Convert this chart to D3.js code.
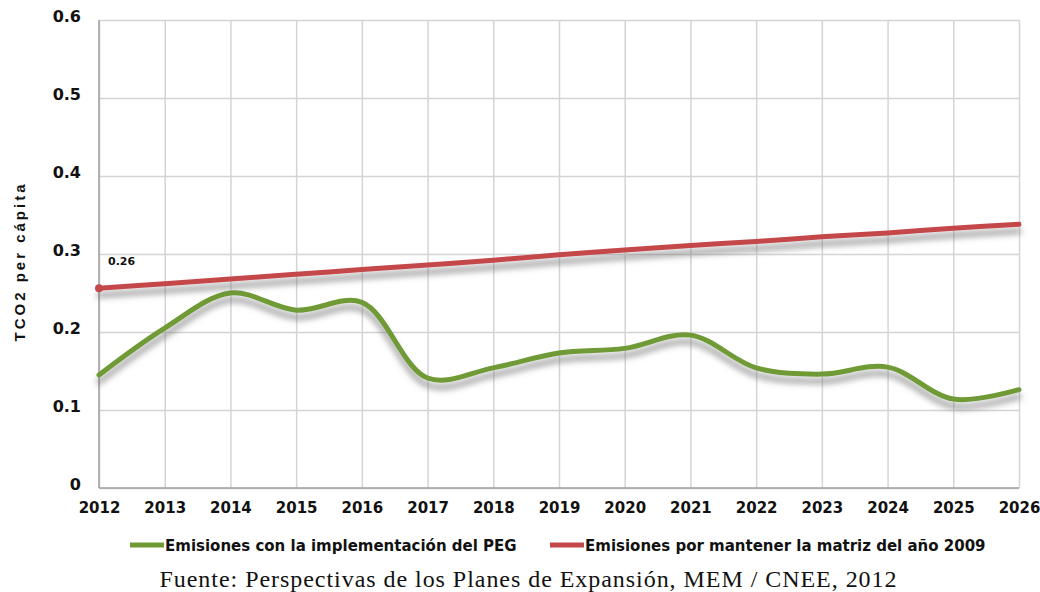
<!DOCTYPE html>
<meta charset="utf-8">
<script src="https://d3js.org/d3.v7.min.js"></script>
<style>
  body { margin: 0; background: #fff; }
  text { font-family: "DejaVu Sans", sans-serif; font-weight: bold; fill: #111; }
</style>
<div id="chart"></div>
<script>

// years on the x axis
const years = [2012, 2013, 2014, 2015, 2016, 2017, 2018, 2019, 2020, 2021, 2022, 2023, 2024, 2025, 2026];

// emissions with PEG (green)
const peg = [0.145, 0.205, 0.250, 0.228, 0.238, 0.141, 0.154, 0.173, 0.179, 0.196, 0.154, 0.146, 0.155, 0.114, 0.126];

// emissions keeping 2009 matrix (red)
const matriz2009 = [0.256, 0.262, 0.268, 0.274, 0.280, 0.286, 0.292, 0.299, 0.305, 0.311, 0.316, 0.322, 0.327, 0.333, 0.338];

const yTicks = [0, 0.1, 0.2, 0.3, 0.4, 0.5, 0.6];

const seriesNames = ["Emisiones con la implementación del PEG", "Emisiones por mantener la matriz del año 2009"];
const colors = ["#6f9a34", "#c4474a"];

const W = 1040, H = 592;
const margin = {top: 20, right: 21, bottom: 104, left: 99};
const width = W - margin.left - margin.right,
      height = H - margin.top - margin.bottom;

const svg = d3.select("#chart").append("svg")
    .attr("width", W)
    .attr("height", H);

// shadow filter like the Excel effect
const defs = svg.append("defs");
const f = defs.append("filter").attr("id", "shadow")
    .attr("x", "-5%").attr("y", "-50%").attr("width", "110%").attr("height", "200%");
f.append("feGaussianBlur").attr("in", "SourceAlpha").attr("stdDeviation", 3).attr("result", "blur");
f.append("feOffset").attr("in", "blur").attr("dy", 7).attr("result", "off");
f.append("feFlood").attr("flood-color", "#6e6e6e").attr("flood-opacity", 0.7);
f.append("feComposite").attr("in2", "off").attr("operator", "in").attr("result", "sh");
const m = f.append("feMerge");
m.append("feMergeNode").attr("in", "sh");
m.append("feMergeNode").attr("in", "SourceGraphic");

const g = svg.append("g")
    .attr("transform", `translate(${margin.left},${margin.top})`);

const x = d3.scaleLinear().domain([2012, 2026]).range([0, width]);
const y = d3.scaleLinear().domain([0, 0.6]).range([height, 0]);

// grid
g.append("g")
  .call(d3.axisBottom(x).tickValues(years).tickSize(-height).tickFormat(""))
  .attr("transform", `translate(0,${height})`)
  .call(s => s.select(".domain").remove())
  .call(s => s.selectAll("line").attr("stroke", "#d4d4d4").attr("stroke-width", 1.5));
g.append("g")
  .call(d3.axisLeft(y).tickValues(yTicks).tickSize(-width).tickFormat(""))
  .call(s => s.select(".domain").remove())
  .call(s => s.selectAll("line").attr("stroke", "#d4d4d4").attr("stroke-width", 1.5));

// left and bottom frame
g.append("line").attr("x1", 0).attr("x2", 0).attr("y1", 0).attr("y2", height)
  .attr("stroke", "#a0a0a0").attr("stroke-width", 1.5);
g.append("line").attr("x1", 0).attr("x2", width).attr("y1", height).attr("y2", height)
  .attr("stroke", "#a0a0a0").attr("stroke-width", 1.5);

// y axis labels
const yAxis = g.append("g")
  .call(d3.axisLeft(y).tickValues(yTicks).tickSize(0).tickPadding(18)
    .tickFormat(d => d === 0 ? "0" : d3.format(".1f")(d)));
yAxis.select(".domain").remove();
yAxis.selectAll("text").attr("font-size", 16).attr("font-family", null).attr("dy", "0.1em");

// x axis labels
const xAxis = g.append("g")
  .attr("transform", `translate(0,${height})`)
  .call(d3.axisBottom(x).tickValues(years).tickSize(0).tickPadding(14).tickFormat(d3.format("d")));
xAxis.select(".domain").remove();
xAxis.selectAll("text").attr("font-size", 15).attr("font-family", null);

// axis title
svg.append("text")
  .attr("transform", `translate(25,263) rotate(-90)`)
  .attr("text-anchor", "middle")
  .style("font-family", "'Liberation Sans', Arial, sans-serif")
  .attr("font-size", 15)
  .attr("textLength", 157)
  .attr("lengthAdjust", "spacing")
  .text("TCO2 per cápita");

// lines
const line = d3.line()
  .x((d, i) => x(years[i]))
  .y(d => y(d))
  .curve(d3.curveCatmullRom);

[peg, matriz2009].forEach((s, i) => {
  g.append("path")
    .datum(s)
    .attr("fill", "none")
    .attr("stroke", colors[i])
    .attr("stroke-width", 5)
    .attr("stroke-linecap", "round")
    .attr("filter", "url(#shadow)")
    .attr("d", line);
});

// first point of red series with label
g.append("circle")
  .attr("cx", x(years[0])).attr("cy", y(matriz2009[0]))
  .attr("r", 4).attr("fill", colors[1]);
g.append("text")
  .attr("x", x(years[0]) + 9).attr("y", y(matriz2009[0]) - 23)
  .attr("font-size", 11)
  .text(d3.format(".2f")(matriz2009[0]));

// legend
const legendX = [130, 550];
seriesNames.forEach((name, i) => {
  const lg = svg.append("g").attr("transform", `translate(${legendX[i]},545)`);
  lg.append("line").attr("x1", 0).attr("x2", 34).attr("y1", 0).attr("y2", 0)
    .attr("stroke", colors[i]).attr("stroke-width", 5);
  lg.append("text").attr("x", 35).attr("y", 5.5)
    .attr("font-size", 15)
    .text(name);
});

// source
svg.append("text")
  .attr("x", 528).attr("y", 587)
  .attr("text-anchor", "middle")
  .style("font-family", "'Liberation Serif', serif")
  .style("font-weight", "normal")
  .attr("font-size", 24)
  .attr("textLength", 737)
  .attr("lengthAdjust", "spacing")
  .text("Fuente: Perspectivas de los Planes de Expansión, MEM / CNEE, 2012");

</script>
